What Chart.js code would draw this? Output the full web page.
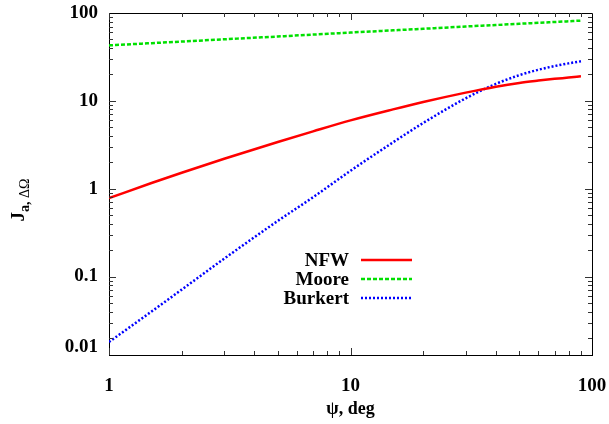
<!DOCTYPE html>
<html>
<head>
<meta charset="utf-8">
<script src="https://cdn.jsdelivr.net/npm/chart.js@4/dist/chart.umd.min.js"></script>
<style>
  html, body { margin: 0; padding: 0; background: #fff; }
  #wrap { width: 609px; height: 424px; }
</style>
</head>
<body>
<div id="wrap"><canvas id="chart" width="609" height="424"></canvas></div>
<script>
// Values (log-log)
var psi = [1, 1.5, 2, 3, 5, 7, 10, 15, 20, 30, 40, 50, 60, 70, 80, 90];
var nfw = [0.78, 1.16, 1.52, 2.19, 3.40, 4.50, 6.0, 8.0, 9.7, 12.4, 14.5, 16.0, 17.0, 17.8, 18.4, 19.0];
var moore = [42.8, 45.4, 47.3, 50.2, 54.0, 56.8, 59.9, 63.5, 66.1, 70.2, 73.0, 75.4, 77.3, 79.0, 80.5, 81.9];
var burkert = [0.018, 0.040, 0.071, 0.16, 0.43, 0.80, 1.6, 3.37, 5.6, 10.7, 15.6, 19.6, 22.6, 24.9, 26.7, 28.2];

var seriesNames = ['NFW', 'Moore', 'Burkert'];
var xTicks = [1, 10, 100];
var xTickLabels = ['1', '10', '100'];
var yMin = 0.0128, yMax = 100;
var yTicks = [0.0158, 0.1, 1, 10, 100];
var yTickLabels = ['0.01', '0.1', '1', '10', '100'];

var FONT = '"Liberation Serif", "Times New Roman", serif';

function points(ys) {
  return psi.map(function (x, i) { return { x: x, y: ys[i] }; });
}

// inward ticks on all four sides + top/right border
var frameTicks = {
  id: 'frameTicks',
  afterDraw: function (chart) {
    var ctx = chart.ctx;
    var a = chart.chartArea;
    var xs = chart.scales.x, ys = chart.scales.y;
    ctx.save();
    ctx.strokeStyle = '#000';
    ctx.lineWidth = 1;
    ctx.beginPath();
    ctx.moveTo(a.left, a.top + 0.5);
    ctx.lineTo(a.right + 0.5, a.top + 0.5);
    ctx.lineTo(a.right + 0.5, a.bottom);
    ctx.stroke();

    ctx.strokeStyle = '#333';
    var d, m, v, p, len;
    for (d = 1; d <= 10; d *= 10) {
      for (m = 1; m <= 9; m++) {
        v = d * m;
        if (v < xs.min || v > xs.max) continue;
        p = Math.round(xs.getPixelForValue(v)) + 0.5;
        len = m === 1 ? 7 : 4;
        ctx.beginPath();
        ctx.moveTo(p, a.bottom); ctx.lineTo(p, a.bottom - len);
        ctx.moveTo(p, a.top); ctx.lineTo(p, a.top + len);
        ctx.stroke();
      }
    }
    for (d = 0.01; d <= 10.5; d *= 10) {
      for (m = 1; m <= 9; m++) {
        v = d * m;
        if (v < ys.min || v > ys.max * 1.001) continue;
        p = Math.round(ys.getPixelForValue(v)) + 0.5;
        len = m === 1 ? 7 : 4;
        ctx.beginPath();
        ctx.moveTo(a.left, p); ctx.lineTo(a.left + len, p);
        ctx.moveTo(a.right, p); ctx.lineTo(a.right - len, p);
        ctx.stroke();
      }
    }
    ctx.restore();
  }
};

// axis titles and the key, gnuplot style
var labelsAndKey = {
  id: 'labelsAndKey',
  afterDraw: function (chart) {
    var ctx = chart.ctx;
    var a = chart.chartArea;
    var ds = chart.data.datasets;
    ctx.save();
    ctx.fillStyle = '#000';

    // x title
    ctx.font = 'bold 18px ' + FONT;
    ctx.textAlign = 'center';
    ctx.textBaseline = 'middle';
    ctx.fillText('\u03c8, deg', (a.left + a.right) / 2, 409);

    // y title: J with subscript "a, ΔΩ"
    ctx.translate(24, 200);
    ctx.rotate(-Math.PI / 2);
    ctx.textAlign = 'left';
    ctx.textBaseline = 'alphabetic';
    ctx.font = 'bold 19px ' + FONT;
    var wJ = ctx.measureText('J').width;
    ctx.font = 'bold 14px ' + FONT;
    var wA = ctx.measureText('a, ').width;
    ctx.font = '14px ' + FONT;
    var wO = ctx.measureText('\u0394\u03a9').width;
    var x0 = -(wJ + wA + wO) / 2;
    ctx.font = 'bold 19px ' + FONT;
    ctx.fillText('J', x0, 0);
    ctx.font = 'bold 14px ' + FONT;
    ctx.fillText('a, ', x0 + wJ, 5);
    ctx.font = '14px ' + FONT;
    ctx.fillText('\u0394\u03a9', x0 + wJ + wA, 5);
    ctx.setTransform(1, 0, 0, 1, 0, 0);

    // key
    var textRight = a.left + 240;
    var lineL = a.left + 252, lineR = a.left + 303;
    var rowY = [260, 279, 298];
    ctx.font = 'bold 19px ' + FONT;
    ctx.textAlign = 'right';
    ctx.textBaseline = 'middle';
    for (var i = 0; i < ds.length; i++) {
      ctx.fillStyle = '#000';
      ctx.fillText(ds[i].label, textRight, rowY[i] + 1);
      ctx.strokeStyle = ds[i].borderColor;
      ctx.lineWidth = ds[i].borderWidth;
      ctx.setLineDash(ds[i].borderDash || []);
      ctx.beginPath();
      ctx.moveTo(lineL, rowY[i]);
      ctx.lineTo(lineR, rowY[i]);
      ctx.stroke();
    }
    ctx.restore();
  }
};

new Chart(document.getElementById('chart').getContext('2d'), {
  type: 'line',
  data: {
    datasets: [
      {
        label: seriesNames[0],
        data: points(nfw),
        borderColor: '#ff0000',
        borderWidth: 2.5,
        pointRadius: 0,
        cubicInterpolationMode: 'monotone'
      },
      {
        label: seriesNames[1],
        data: points(moore),
        borderColor: '#00e000',
        borderWidth: 2.5,
        borderDash: [4, 2],
        pointRadius: 0,
        cubicInterpolationMode: 'monotone'
      },
      {
        label: seriesNames[2],
        data: points(burkert),
        borderColor: '#0000ff',
        borderWidth: 2.5,
        borderDash: [2, 2],
        pointRadius: 0,
        cubicInterpolationMode: 'monotone'
      }
    ]
  },
  options: {
    responsive: false,
    devicePixelRatio: 1,
    animation: false,
    layout: { padding: { top: 13, right: 17, left: 0, bottom: 0 } },
    plugins: {
      legend: { display: false },
      tooltip: { enabled: false }
    },
    scales: {
      x: {
        type: 'logarithmic',
        min: 1,
        max: 100,
        grid: { display: false, drawTicks: false },
        border: { display: true, color: '#000', width: 1 },
        afterBuildTicks: function (scale) {
          scale.ticks = xTicks.map(function (v) { return { value: v }; });
        },
        afterFit: function (scale) {
          scale.height = 69;
          scale.paddingLeft = 0;
          scale.paddingRight = 0;
        },
        ticks: {
          autoSkip: false,
          maxRotation: 0,
          padding: 20,
          color: '#000',
          font: { family: FONT, size: 19, weight: 'bold' },
          callback: function (value) {
            return xTickLabels[xTicks.indexOf(value)];
          }
        }
      },
      y: {
        type: 'logarithmic',
        min: yMin,
        max: yMax,
        grid: { display: false, drawTicks: false },
        border: { display: true, color: '#000', width: 1 },
        afterBuildTicks: function (scale) {
          scale.ticks = yTicks.map(function (v) { return { value: v }; });
        },
        afterFit: function (scale) {
          scale.width = 109;
          scale.paddingTop = 0;
          scale.paddingBottom = 0;
        },
        ticks: {
          autoSkip: false,
          padding: 11,
          color: '#000',
          font: { family: FONT, size: 19, weight: 'bold' },
          callback: function (value) {
            return yTickLabels[yTicks.indexOf(value)];
          }
        }
      }
    }
  },
  plugins: [frameTicks, labelsAndKey]
});
</script>
</body>
</html>
